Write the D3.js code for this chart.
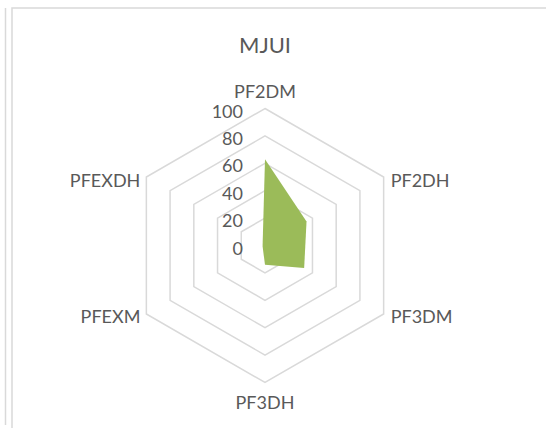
<!DOCTYPE html>
<html>
<head>
<meta charset="utf-8">
<script src="https://cdn.jsdelivr.net/npm/d3@7"></script>
<style>
  html, body { margin: 0; padding: 0; background: #fff; }
  svg { display: block; }
  text { font-family: Lato, "Open Sans", sans-serif; fill: #595959; }
</style>
</head>
<body>
<svg id="chart" width="546" height="428"></svg>
<script>
// Series data
const categories = ["PF2DM", "PF2DH", "PF3DM", "PF3DH", "PFEXM", "PFEXDH"];
const values = [63, 35, 33, 14, 2, 2];
const tickValues = [0, 20, 40, 60, 80, 100];
const title = "MJUI";

const W = 546, H = 428;
const cx = 265, cy = 245.5, R = 137;

const svg = d3.select("#chart");

// Frame lines
svg.append("line").attr("x1", 5.5).attr("y1", 8).attr("x2", 5.5).attr("y2", 425)
  .attr("stroke", "#d9d9d9").attr("stroke-width", 1.5);
svg.append("rect").attr("x", 12).attr("y", 8).attr("width", W).attr("height", H)
  .attr("fill", "#fff").attr("stroke", "#d9d9d9").attr("stroke-width", 1.5);

// Title
svg.append("text").attr("x", cx).attr("y", 53)
  .attr("text-anchor", "middle").attr("font-size", 22).text(title);

const r = d3.scaleLinear().domain([0, 100]).range([0, R]);
const angle = d3.scalePoint().domain(categories).range([0, 2 * Math.PI * (categories.length - 1) / categories.length]);

const g = svg.append("g").attr("transform", `translate(${cx},${cy})`);

// Grid rings
const ring = d3.lineRadial().angle(d => angle(d.c)).radius(d => r(d.v)).curve(d3.curveLinearClosed);
tickValues.filter(t => t > 0).forEach(t => {
  g.append("path")
    .attr("d", ring(categories.map(c => ({ c, v: t }))))
    .attr("fill", "none").attr("stroke", "#d9d9d9").attr("stroke-width", 1.5);
});

// Series area
g.append("path")
  .attr("d", ring(categories.map((c, i) => ({ c, v: values[i] }))))
  .attr("fill", "#9bbb59").attr("stroke", "none");

// Value axis labels
g.selectAll(".tick").data(tickValues).enter().append("text")
  .attr("class", "tick")
  .attr("x", -22).attr("y", d => -r(d) + 2)
  .attr("text-anchor", "end").attr("dominant-baseline", "central")
  .attr("font-size", 18).text(d => d);

// Category labels
g.selectAll(".cat").data(categories).enter().append("text")
  .attr("class", "cat")
  .each(function (c) {
    const a = angle(c);
    const sx = Math.sin(a), sy = -Math.cos(a);
    const el = d3.select(this);
    let x = sx * R, y = sy * R, anchor = "middle";
    if (Math.abs(sx) < 0.01) {
      y += sy > 0 ? 19 : -18;
    } else {
      x += sx > 0 ? 7 : -6;
      anchor = sx > 0 ? "start" : "end";
      y += sy < 0 ? 3 : 2;
    }
    el.attr("x", x).attr("y", y).attr("text-anchor", anchor)
      .attr("dominant-baseline", "central").attr("font-size", 18).text(c);
  });
</script>
</body>
</html>
